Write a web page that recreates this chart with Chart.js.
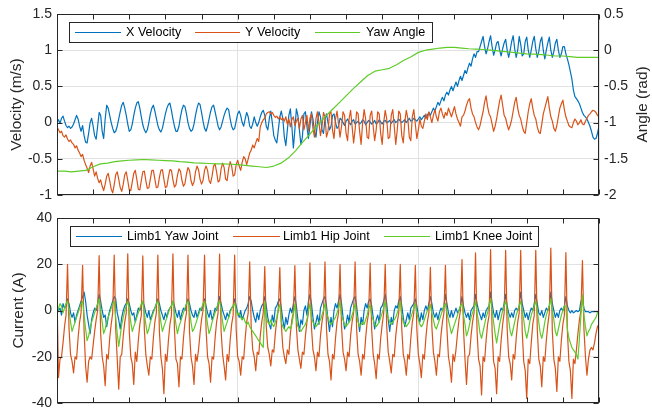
<!DOCTYPE html>
<html>
<head>
<meta charset="utf-8">
<script src="https://cdn.jsdelivr.net/npm/chart.js@4.4.1/dist/chart.umd.min.js"></script>
<style>
  html, body { margin: 0; padding: 0; background: #fff; overflow: hidden; }
  canvas { position: absolute; left: 0; }
  #topChart { top: 0; }
  #bottomChart { top: 206px; }
</style>
</head>
<body>
<canvas id="topChart" width="652" height="207"></canvas>
<canvas id="bottomChart" width="652" height="209"></canvas>
<script>
/* ==================== Data ==================== */
const T_END = 75;   // seconds, x axis runs 0..75 (no tick labels)

// top plot, sampled evenly over 0..75 s (361 samples)
const xVelocity = [
  0.0, 0.04, -0.01, 0.06, 0.09, 0.02, -0.04, -0.07, -0.05, -0.08,
  -0.06, -0.02, 0.04, 0.1, 0.05, -0.05, -0.12, -0.04, -0.18, -0.27,
  -0.28, -0.15, 0.0, 0.06, -0.05, -0.18, -0.23, -0.05, 0.14, 0.1,
  -0.12, -0.22, 0.05, 0.24, 0.2, 0.1, 0.0, -0.08, -0.14, -0.12,
  -0.05, 0.05, 0.15, 0.24, 0.28, 0.2, 0.1, -0.02, -0.12, -0.1,
  -0.02, 0.1, 0.2, 0.27, 0.29, 0.2, 0.08, -0.03, -0.1, -0.14,
  -0.1, 0.0, 0.12, 0.2, 0.24, 0.16, 0.06, -0.04, -0.1, -0.13,
  -0.08, 0.02, 0.12, 0.2, 0.25, 0.27, 0.17, 0.05, -0.05, -0.12,
  -0.12, -0.05, 0.08, 0.18, 0.24, 0.22, 0.12, 0.0, -0.08, -0.12,
  -0.1, -0.02, 0.1, 0.2, 0.27, 0.25, 0.14, 0.02, -0.08, -0.12,
  -0.05, 0.05, 0.15, 0.22, 0.24, 0.15, 0.05, -0.05, -0.1, -0.06,
  0.02, 0.1, 0.16, 0.2, 0.18, 0.05, -0.05, -0.1, -0.08, 0.02,
  0.12, 0.16, 0.1, 0.0, -0.05, 0.05, 0.14, 0.08, -0.05, -0.08,
  -0.02, 0.08, 0.0, -0.05, 0.0, 0.08, 0.14, 0.17, 0.1, -0.05,
  -0.1, 0.05, 0.16, 0.0, -0.18, -0.24, -0.28, -0.1, 0.08, 0.16,
  0.05, -0.2, -0.32, -0.1, 0.1, 0.19, -0.05, -0.35, -0.1, 0.19,
  0.1, -0.1, -0.3, -0.2, 0.12, 0.15, -0.05, -0.22, -0.05, 0.15,
  0.05, -0.12, -0.2, 0.0, 0.15, 0.08, -0.1, -0.15, 0.05, 0.12,
  0.0, -0.1, -0.05, 0.1, 0.12, 0.0, -0.08, -0.05, 0.06, 0.04,
  0.0, -0.04, 0.02, 0.05, 0.0, -0.03, 0.02, 0.04, -0.02, 0.0,
  0.02, -0.02, 0.0, 0.04, 0.02, -0.03, 0.0, 0.03, 0.01, -0.02,
  0.0, 0.03, -0.02, 0.0, 0.04, 0.01, -0.02, 0.02, 0.03, 0.0,
  0.01, 0.03, -0.01, 0.02, 0.04, 0.0, 0.02, 0.05, 0.02, 0.0,
  0.02, 0.04, 0.0, 0.03, 0.06, 0.02, 0.03, 0.06, 0.04, 0.02,
  0.05, 0.08, 0.04, 0.07, 0.1, 0.06, 0.1, 0.14, 0.1, 0.15,
  0.2, 0.16, 0.22, 0.28, 0.24, 0.3, 0.35, 0.3, 0.38, 0.42,
  0.38, 0.45, 0.5, 0.44, 0.5, 0.56, 0.5, 0.58, 0.64, 0.58,
  0.65, 0.72, 0.68, 0.76, 0.82, 0.78, 0.88, 0.95, 0.9, 0.98,
  0.98, 1.05, 1.12, 1.19, 1.05, 0.95, 1.02, 1.12, 1.2, 1.05,
  0.93, 1.0, 1.1, 1.12, 1.0, 0.92, 1.02, 1.1, 1.15, 1.0,
  0.9, 1.0, 1.12, 1.2, 1.02, 0.9, 1.0, 1.19, 1.08, 0.92,
  0.95, 1.12, 1.18, 1.0, 0.9, 1.0, 1.12, 1.19, 1.02, 0.9,
  0.98, 1.12, 1.18, 1.0, 0.88, 1.0, 1.1, 1.18, 1.0, 0.9,
  0.98, 1.1, 1.15, 1.0, 0.9, 0.95, 1.05, 1.05, 0.95, 0.88,
  0.8, 0.7, 0.6, 0.45, 0.36, 0.33, 0.3, 0.26, 0.2, 0.14,
  0.1, 0.08, 0.05, 0.0, -0.05, -0.12, -0.2, -0.23, -0.22, -0.15, -0.05
];

const yVelocity = [
  -0.06, -0.1, -0.14, -0.12, -0.18, -0.2, -0.17, -0.23, -0.26, -0.24,
  -0.28, -0.3, -0.35, -0.32, -0.38, -0.42, -0.47, -0.44, -0.52, -0.58,
  -0.63, -0.69, -0.6, -0.55, -0.64, -0.74, -0.68, -0.77, -0.83, -0.79,
  -0.88, -0.94, -0.85, -0.74, -0.7, -0.8, -0.92, -0.97, -0.86, -0.72,
  -0.68, -0.78, -0.9, -0.95, -0.85, -0.72, -0.68, -0.8, -0.93, -0.94,
  -0.82, -0.7, -0.66, -0.78, -0.92, -0.93, -0.8, -0.68, -0.67, -0.8,
  -0.91, -0.9, -0.78, -0.66, -0.66, -0.78, -0.9, -0.89, -0.76, -0.66,
  -0.65, -0.78, -0.9, -0.88, -0.75, -0.65, -0.66, -0.79, -0.89, -0.86,
  -0.73, -0.64, -0.67, -0.8, -0.88, -0.84, -0.71, -0.62, -0.66, -0.8,
  -0.87, -0.82, -0.68, -0.6, -0.65, -0.78, -0.85, -0.8, -0.66, -0.6,
  -0.66, -0.8, -0.84, -0.74, -0.6, -0.57, -0.68, -0.82, -0.8, -0.64,
  -0.56, -0.62, -0.78, -0.8, -0.64, -0.54, -0.6, -0.74, -0.72, -0.58,
  -0.52, -0.6, -0.66, -0.55, -0.47, -0.5, -0.58, -0.5, -0.42, -0.38,
  -0.31, -0.35, -0.28, -0.22, -0.26, -0.06, 0.0, 0.04, 0.06, 0.12,
  0.14, 0.15, 0.12, 0.14, 0.1, 0.07, 0.09, 0.05, 0.08, 0.04,
  0.06, 0.02, 0.08, -0.02, 0.05, -0.06, 0.04, 0.08, -0.04, 0.02,
  0.06, -0.08, 0.05, 0.1, -0.1, 0.0, 0.1, -0.12, 0.06, 0.12,
  -0.08, -0.2, 0.05, 0.15, 0.0, -0.18, -0.05, 0.14, 0.08, -0.2,
  -0.12, 0.12, 0.15, -0.1, -0.22, 0.05, 0.16, -0.02, -0.2, -0.05,
  0.15, 0.1, -0.15, -0.25, 0.05, 0.17, -0.05, -0.28, -0.1, 0.15,
  0.12, -0.12, -0.3, 0.0, 0.18, 0.05, -0.2, -0.22, 0.1, 0.16,
  -0.05, -0.25, -0.1, 0.15, 0.12, -0.15, -0.3, 0.0, 0.17, 0.05,
  -0.22, -0.2, 0.1, 0.18, -0.05, -0.3, -0.1, 0.16, 0.12, -0.18,
  -0.28, 0.0, 0.17, 0.06, -0.2, -0.25, 0.08, 0.18, -0.02, -0.22,
  -0.1, 0.05, -0.05, -0.08, 0.02, 0.12, 0.04, 0.15, 0.08, 0.0,
  0.1, 0.18, 0.08, 0.02, 0.15, 0.2, 0.12, 0.06, 0.14, 0.1,
  0.2, 0.14, 0.08, 0.15, 0.22, 0.12, 0.05, 0.0, -0.05, 0.08,
  0.1, 0.16, 0.24, 0.3, 0.33, 0.2, 0.12, 0.08, 0.0, -0.06,
  -0.1, -0.04, 0.06, 0.15, 0.28, 0.37, 0.22, 0.12, 0.08, -0.02,
  -0.12, -0.05, 0.05, 0.18, 0.3, 0.38, 0.24, 0.1, 0.06, -0.03,
  -0.1, -0.04, 0.04, 0.16, 0.28, 0.35, 0.2, 0.1, 0.05, -0.05,
  -0.12, -0.15, 0.0, 0.15, 0.26, 0.33, 0.2, 0.1, 0.05, -0.06,
  -0.13, -0.15, -0.02, 0.12, 0.2, 0.28, 0.36, 0.2, 0.08, 0.02,
  -0.08, -0.12, -0.04, 0.08, 0.2, 0.26, 0.31, 0.18, 0.08, 0.02,
  -0.04, -0.06, -0.07, 0.0, 0.05, 0.02, -0.03, 0.0, 0.04, -0.02,
  -0.03, 0.02, 0.06, 0.1, 0.12, 0.15, 0.17, 0.16, 0.14, 0.1, 0.08
];

// yaw angle, one value per second (0..75 s), right axis
const yawAngle = [
  -1.67, -1.67, -1.68, -1.67, -1.66, -1.61, -1.57, -1.56, -1.54, -1.53,
  -1.52, -1.515, -1.51, -1.515, -1.52, -1.525, -1.53, -1.54, -1.545, -1.555,
  -1.56, -1.565, -1.57, -1.57, -1.575, -1.58, -1.59, -1.6, -1.61, -1.62,
  -1.6, -1.56, -1.49, -1.39, -1.27, -1.16, -1.04, -0.93, -0.83, -0.73,
  -0.63, -0.53, -0.44, -0.35, -0.29, -0.27, -0.25, -0.2, -0.14, -0.09,
  -0.03, 0.0, 0.015, 0.03, 0.04, 0.04, 0.03, 0.02, 0.015, 0.01,
  0.0, -0.01, -0.02, -0.03, -0.04, -0.05, -0.055, -0.06, -0.07, -0.08,
  -0.08, -0.09, -0.1, -0.1, -0.1, -0.1
];

// bottom plot, 361 samples; one line per gait cycle (starting at the hip spike)
const yawJoint = [
  2, 0, 1, -2, 3, 1, 2,
  5, 3, -1, -3, -1, -5, -2, 0, 2, 4,
  6, 8, 4, -2, -6, -10, -4, -1, 1, 0, 3,
  7, 4, 0, -3, -2, -7, -3, 0, 2, 4,
  6, 5, -1, -4, -8, -3, 0, 2, 3,
  5, 3, 0, -2, -1, -5, -2, 1, 0, 2,
  4, 2, -1, -3, 0, -4, -2, 0, 1, 3,
  5, 3, 0, -2, -4, -1, -3, 0, 1, 2,
  4, 2, -1, -3, 0, -4, -1, 1, 0, 3,
  5, 3, 0, -2, -3, 0, -3, -1, 1, 0, 2,
  5, 2, -1, -3, 0, -4, -2, 1, 0, 3,
  6, 3, 0, -2, -4, -1, -3, 0, 1, 2,
  5, 2, -1, -3, 0, -4, -2, 0, 1, 3,
  6, 4, 0, -3, -5, -1, -4, 0, 2, 3,
  6, 2, -3, -6, -8, -2, -5, 1, 2, 4,
  5, 1, -4, -8, -3, -6, -2, 1, -1, 3,
  6, 2, -4, -9, -4, -6, 0, 2, -2, 4,
  7, 3, -3, -8, -5, -2, -6, 1, 3, 5,
  6, 2, -4, -9, -3, -7, 0, 3, 1, 4,
  7, 3, -3, -8, -6, -2, -5, 1, 3, 5,
  6, 2, -4, -9, -3, -6, 0, 3, 1, 4,
  5, 2, -3, -8, -4, -2, -5, 1, 2, 4,
  7, 3, -4, -9, -3, -6, 0, 2, 1, 4,
  6, 2, -3, -7, -4, -1, -4, 1, 2, 3,
  5, 2, -2, -5, -1, -4, 0, 2, 0, 3,
  6, 3, -1, -3, -1, -4, -1, 1, 0, 2,
  7, 3, -1, -3, 0, -3, -1, 1, -1, 0, 2,
  6, 2, -1, -3, -1, -4, 0, 1, 2,
  7, 3, 0, -2, -4, -1, -3, 0, 1, 2,
  8, 3, -1, -3, 0, -4, -1, 1, 0, 3,
  7, 2, -1, -3, -1, -3, 0, 1, 0, 2,
  8, 3, 0, -3, -1, -4, -1, 1, 0, 3,
  7, 3, -1, -2, 0, -3, -1, 1, 0, 2,
  8, 3, 0, -3, -1, -3, 0, 1, 0, 2,
  6, 2, 0, -1, 0, -1, -0.5, 0, -0.5, 0, 4,
  5, 1, -0.5, -0.5, -0.5, -1, -0.5, -0.5, -0.5, -0.5, -0.5, -0.5
];

const hipJoint = [
  7, -29, -21, -20, -14, -7, -2,
  20, -8, -19, -22, -27, -20, -21, -12, -5, -1,
  19.5, -9, -24, -31, -22, -20, -21, -15, -9, -4, 0,
  23.7, -10, -20, -24, -32.5, -19, -21, -12, -6, -1,
  24, -8, -21, -34, -20, -19, -11, -5, -1,
  24.5, -9, -20, -23, -32, -18, -22, -13, -6, -2,
  23.6, -8, -19, -24, -28, -20, -21, -12, -5, -1,
  24, -9, -20, -25, -36, -19, -22, -13, -6, -2,
  24.5, -8, -21, -23, -33, -20, -21, -12, -5, -1,
  24, -9, -20, -24, -32, -19, -22, -17, -10, -4, 0,
  24, -8, -20, -23, -31, -20, -21, -12, -5, -1,
  24.4, -9, -19, -24, -30, -19, -22, -13, -6, -2,
  24, -8, -20, -22, -28, -20, -21, -12, -5, -1,
  21, -7, -17, -20, -26, -18, -19, -11, -5, -1,
  19, -7, -16, -19, -24, -17, -18, -10, -4, 0,
  18.6, -6, -16, -20, -23, -17, -19, -10, -4, -1,
  19.4, -7, -17, -21, -25, -18, -19, -11, -5, -1,
  20.6, -7, -17, -20, -26, -18, -20, -11, -5, -1,
  21, -8, -19, -22, -30, -19, -21, -12, -5, -1,
  20, -7, -18, -21, -26, -18, -20, -11, -5, -1,
  21, -8, -19, -22, -28, -19, -21, -12, -5, -1,
  20.5, -8, -19, -23, -29.5, -19, -21, -12, -6, -1,
  20, -7, -18, -22, -27, -19, -20, -11, -5, -1,
  20, -8, -19, -22, -28, -19, -21, -12, -5, -1,
  19.5, -8, -19, -23, -29, -19, -21, -12, -5, -1,
  18.7, -7, -18, -22, -28, -19, -20, -11, -5, -1,
  19.5, -8, -20, -24, -31, -19, -22, -17, -10, -4, 0,
  22, -8, -21, -32, -20, -19, -11, -5, -1,
  24.9, -9, -21, -24, -36.5, -20, -22, -13, -6, -2,
  26.3, -9, -22, -25, -36, -20, -22, -13, -6, -1,
  26, -8, -20, -23, -30, -19, -21, -12, -5, -1,
  26, -9, -22, -26, -38, -21, -23, -14, -6, -2,
  26, -8, -21, -24, -33, -20, -22, -13, -6, -1,
  27, -9, -21, -25, -35, -20, -22, -13, -6, -2,
  25, -9, -22, -26, -38, -21, -23, -17, -10, -4, 0,
  21.6, -8, -20, -28, -21, -17, -16, -17, -14, -10, -7, -6
];

const kneeJoint = [
  -2, 1, 3, 2, -1, 1, 3,
  4, 0, -5, -9, -7, -5, -3, -1, 1, 3,
  4, -2, -8, -13, -11, -8, -5, -3, -1, 1, 3,
  5, 0, -5, -10, -8, -5, -3, -1, 1, 3,
  4, -3, -10, -15.5, -11, -6, -3, 0, 2,
  4, 0, -5, -9, -7, -5, -3, -1, 1, 3,
  4, -1, -6, -10, -8, -5, -3, -1, 1, 3,
  4, 0, -5, -9, -7, -5, -3, -1, 1, 2,
  4, -1, -6, -10, -7, -5, -3, -1, 1, 3,
  4, 0, -5, -9, -8, -6, -4, -2, 0, 1, 3,
  4, -1, -6, -10, -8, -5, -3, -1, 1, 3,
  4, 0, -5, -9, -7, -5, -3, -1, 1, 2,
  3, 0, -2, -1, -3, -4, -3, -5, -6, -5,
  -7, -8, -9, -10, -11, -12, -13, -14, -15, -16,
  3.8, -3, -5, -6, -4, -6, -7, -5, -3, 1,
  2.5, -5, -7, -8, -9, -8, -7, -8, -6, -2,
  3, -4, -7, -8, -9, -8, -7, -6, -4, 0,
  3, -3, -5, -6, -7, -6, -5, -4, -2, 0,
  3, -1, -3, -5, -6, -5, -4, -3, -1, 1,
  3.8, -2, -4, -6, -7, -6, -5, -4, -2, 0,
  3, -2, -5, -7, -6, -5, -6, -4, -2, 1,
  2.5, -2, -4, -6, -7, -6, -5, -3, -1, 1,
  3.8, -1, -3, -5, -6, -5, -4, -3, -1, 1,
  3.8, -2, -5, -6, -7, -6, -5, -3, -1, 1,
  3, -1, -4, -6, -7, -6, -4, -2, 0, 1,
  2.5, -1, -4, -7, -8, -6, -4, -2, 0, 2,
  3, -1, -4, -7, -10, -8, -6, -4, -2, 0, 2,
  3, -2, -6, -11, -9, -6, -3, -1, 1,
  4, -1, -5, -10, -12, -9, -6, -3, -1, 2,
  5, 0, -5, -10, -14, -10, -6, -3, 0, 2,
  4, 0, -4, -9, -11, -8, -5, -2, 0, 2,
  4, 0, -4, -9, -12, -9, -5, -2, 0, 2,
  4, 0, -5, -10, -12, -9, -5, -2, 0, 2,
  5, 0, -4, -9, -11, -8, -5, -2, 0, 2,
  2, -8, -12, -14, -16, -17, -18, -19, -21, -12, -2,
  6.8, -2, -7, -11, -9, -8, -6, -5, -4, -3, -1, 0
];

/* ==================== Style ==================== */
const BLUE = '#0072BD';
const ORANGE = '#D95319';
const GREEN = '#5FCB2A';
const AXIS = '#262626';
const GRID = '#e2e2e2';
const FONT = '"Liberation Sans", Arial, Helvetica, sans-serif';

/* ==================== Helpers ==================== */
function toPoints(values, xs) {
    return values.map((v, i) => ({
        x: xs ? xs[i] : i * T_END / (values.length - 1),
        y: v
    }));
}

function lineSet(label, values, color, axis, order, xs) {
    return {
        label: label,
        data: toPoints(values, xs),
        yAxisID: axis,
        order: order,
        borderColor: color,
        backgroundColor: color,
        borderWidth: 1.2,
        borderJoinStyle: 'round',
        pointRadius: 0,
        tension: 0,
        fill: false
    };
}

function tickLabel(v) {
    return String(Number(v.toFixed(2)));
}

function yScale(pos, min, max, step, width, showGrid) {
    return {
        type: 'linear',
        position: pos,
        min: min,
        max: max,
        ticks: {
            stepSize: step,
            padding: 5,
            color: AXIS,
            font: { family: FONT, size: 14, lineHeight: 1 },
            callback: tickLabel
        },
        grid: { display: showGrid, color: GRID, drawTicks: false },
        border: { display: false },
        afterFit: s => { s.width = width; }
    };
}

function xScale(height) {
    return {
        type: 'linear',
        min: 0,
        max: T_END,
        ticks: { display: false, stepSize: 25 },
        grid: { color: GRID, drawTicks: false },
        border: { display: false },
        afterFit: s => { s.height = height; }
    };
}

/* ==================== Frame, ticks, titles, legend ==================== */
const matlabFrame = {
    id: 'matlabFrame',
    afterDraw(chart, args, opts) {
        const { ctx, chartArea: a, scales } = chart;
        const L = Math.round(a.left) + 0.5;
        const R = Math.round(a.right) - 0.5;
        const T = Math.round(a.top) + 0.5;
        const B = Math.round(a.bottom) - 0.5;
        ctx.save();
        ctx.strokeStyle = AXIS;
        ctx.lineWidth = 1;
        ctx.strokeRect(L, T, R - L, B - T);

        // inward tick marks
        ctx.beginPath();
        for (let v = 0; v <= T_END; v += 5) {
            const px = Math.round(scales.x.getPixelForValue(v)) + 0.5;
            ctx.moveTo(px, B); ctx.lineTo(px, B - 5);
            ctx.moveTo(px, T); ctx.lineTo(px, T + 5);
        }
        scales.y.ticks.forEach(t => {
            const py = Math.round(scales.y.getPixelForValue(t.value)) + 0.5;
            ctx.moveTo(L, py); ctx.lineTo(L + 5, py);
        });
        const rightScale = scales.y1 || scales.y;
        rightScale.ticks.forEach(t => {
            const py = Math.round(rightScale.getPixelForValue(t.value)) + 0.5;
            ctx.moveTo(R, py); ctx.lineTo(R - 5, py);
        });
        ctx.stroke();

        // axis titles
        ctx.fillStyle = AXIS;
        ctx.font = '15.4px ' + FONT;
        ctx.textAlign = 'center';
        ctx.textBaseline = 'middle';
        const midY = (a.top + a.bottom) / 2;
        (opts.titles || []).forEach(tt => {
            ctx.save();
            ctx.translate(tt.x, midY);
            ctx.rotate(-Math.PI / 2);
            ctx.fillText(tt.text, 0, 0);
            ctx.restore();
        });

        // legend box
        const lg = opts.legend;
        if (lg) {
            ctx.fillStyle = '#fff';
            ctx.fillRect(lg.x, lg.y, lg.w, lg.h);
            ctx.strokeStyle = AXIS;
            ctx.strokeRect(lg.x + 0.5, lg.y + 0.5, lg.w - 1, lg.h - 1);
            const cy = lg.y + lg.h / 2;
            ctx.font = '12.6px ' + FONT;
            ctx.textAlign = 'left';
            ctx.textBaseline = 'middle';
            chart.data.datasets.forEach((ds, i) => {
                const it = lg.items[i];
                ctx.strokeStyle = ds.borderColor;
                ctx.lineWidth = 1.2;
                ctx.beginPath();
                ctx.moveTo(it.x0, cy); ctx.lineTo(it.x1, cy);
                ctx.stroke();
                ctx.fillStyle = '#000';
                ctx.fillText(ds.label, it.tx, cy + 0.5);
            });
        }
        ctx.restore();
    }
};

/* ==================== Top chart: velocities and yaw ==================== */
const yawTime = yawAngle.map((v, i) => i);

new Chart(document.getElementById('topChart'), {
    type: 'line',
    data: {
        datasets: [
            lineSet('X Velocity', xVelocity, BLUE, 'y', 2),
            lineSet('Y Velocity', yVelocity, ORANGE, 'y', 1),
            lineSet('Yaw Angle', yawAngle, GREEN, 'y1', 0, yawTime)
        ]
    },
    options: {
        responsive: false,
        animation: false,
        devicePixelRatio: 1,
        layout: { padding: { top: 14, left: 0, right: 0, bottom: 0 } },
        scales: {
            x: xScale(9),
            y: yScale('left', -1, 1.5, 0.5, 57, true),
            y1: yScale('right', -2, 0.5, 0.5, 53, false)
        },
        plugins: {
            legend: { display: false },
            tooltip: { enabled: false },
            matlabFrame: {
                titles: [
                    { text: 'Velocity (m/s)', x: 17 },
                    { text: 'Angle (rad)', x: 643 }
                ],
                legend: {
                    x: 69, y: 22, w: 364, h: 21,
                    items: [
                        { x0: 75, x1: 121, tx: 126 },
                        { x0: 195, x1: 240, tx: 245 },
                        { x0: 315, x1: 360, tx: 366 }
                    ]
                }
            }
        }
    },
    plugins: [matlabFrame]
});

/* ==================== Bottom chart: joint currents ==================== */
new Chart(document.getElementById('bottomChart'), {
    type: 'line',
    data: {
        datasets: [
            lineSet('Limb1 Yaw Joint', yawJoint, BLUE, 'y', 2),
            lineSet('Limb1 Hip Joint', hipJoint, ORANGE, 'y', 1),
            lineSet('Limb1 Knee Joint', kneeJoint, GREEN, 'y', 0)
        ]
    },
    options: {
        responsive: false,
        animation: false,
        devicePixelRatio: 1,
        layout: { padding: { top: 10, left: 0, right: 53, bottom: 0 } },
        scales: {
            x: xScale(8),
            y: yScale('left', -40, 40, 20, 57, true)
        },
        plugins: {
            legend: { display: false },
            tooltip: { enabled: false },
            matlabFrame: {
                titles: [
                    { text: 'Current (A)', x: 19 }
                ],
                legend: {
                    x: 70, y: 20, w: 469, h: 21,
                    items: [
                        { x0: 76, x1: 122, tx: 127 },
                        { x0: 233, x1: 280, tx: 283 },
                        { x0: 384, x1: 430, tx: 435 }
                    ]
                }
            }
        }
    },
    plugins: [matlabFrame]
});
</script>
</body>
</html>
